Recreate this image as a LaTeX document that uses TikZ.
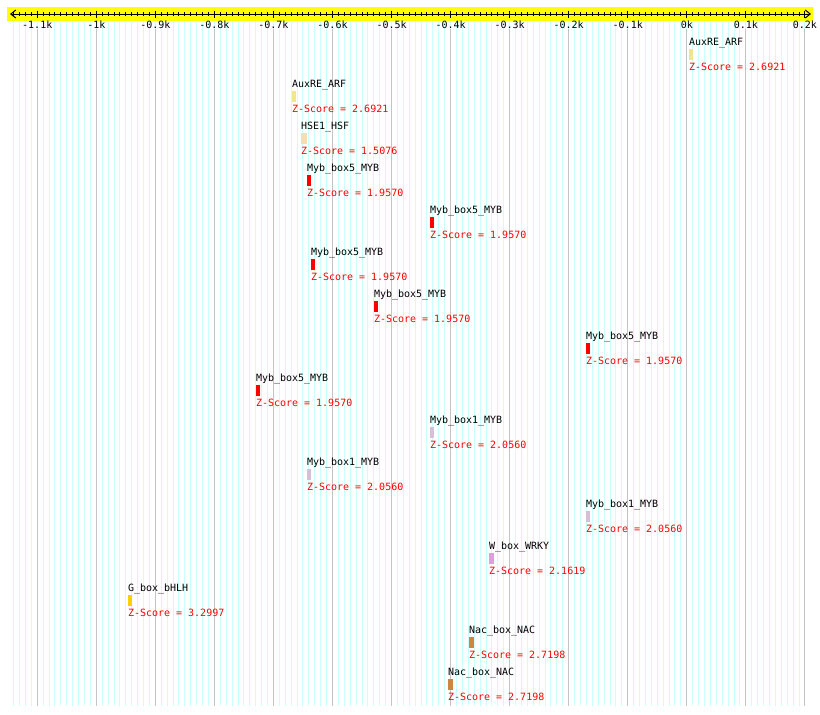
\documentclass[tikz,border=0pt]{standalone}
\usepackage{fontspec}
\setmonofont{DejaVu Sans Mono}
\usetikzlibrary{arrows.meta}
\definecolor{khakiC}{HTML}{F0E68C}
\definecolor{wheatC}{HTML}{F5DEB3}
\definecolor{mybC}{HTML}{FF0000}
\definecolor{thistleC}{HTML}{D8BFD8}
\definecolor{plumC}{HTML}{DDA0DD}
\definecolor{goldC}{HTML}{FFD000}
\definecolor{peruC}{HTML}{CD853F}
\definecolor{minorC}{HTML}{CCFFFF}
\definecolor{majorC}{HTML}{C4C4C4}
\definecolor{bandC}{HTML}{FFFF00}
\newcommand{\lblfont}{\ttfamily\fontsize{10}{12}\selectfont}
\begin{document}
\begin{tikzpicture}[x=1pt,y=-1pt,
  lbl/.style={anchor=base west, inner sep=0pt, outer sep=0pt, font=\lblfont, text=black},
  zsc/.style={lbl, text=red},
  axlbl/.style={anchor=base, inner sep=0pt, font=\lblfont, text=black},
  barbox/.style={draw=none, inner sep=0pt, outer sep=0pt, anchor=north west, minimum height=10.5pt},
  minorline/.style={draw=minorC, line width=1pt},
  majorline/.style={draw=majorC, line width=1pt},
  tickline/.style={draw=black, line width=1pt},
  axisline/.style={draw=black, line width=1pt, {Straight Barb[length=5pt,width=8pt]}-{Straight Barb[length=5pt,width=8pt]}}
]
\useasboundingbox (0,0) rectangle (820,715);
\fill[white] (0,0) rectangle (820,715);
% grid
\foreach \b in {-1140,-1130,...,200}{
  \pgfmathsetmacro\xx{686.8+0.5905*\b}
  \draw[minorline] (\xx,21) -- (\xx,706);
}
\foreach \b in {-1100,-1000,...,200}{
  \pgfmathsetmacro\xx{686.8+0.5905*\b}
  \draw[majorline] (\xx,29) -- (\xx,706);
}
% axis band
\fill[bandC] (7,7) rectangle (813,21);
\coordinate (axL) at (10,14);
\coordinate (axR) at (811,14);
\draw[axisline] (axL) -- (axR);
\foreach \b in {-1140,-1130,...,200}{
  \pgfmathsetmacro\xx{686.8+0.5905*\b}
  \draw[tickline] (\xx,12) -- (\xx,16);
}
\foreach \b/\t [count=\i] in {-1100/-1.1k,-1000/-1k,-900/-0.9k,-800/-0.8k,-700/-0.7k,-600/-0.6k,-500/-0.5k,-400/-0.4k,-300/-0.3k,-200/-0.2k,-100/-0.1k,0/0k,100/0.1k,200/0.2k}{
  \pgfmathsetmacro\xx{686.8+0.5905*\b}
  \draw[tickline] (\xx,10.5) -- (\xx,17.5);
  \node[axlbl] (ax\i) at (\xx,28.3) {\t};
}
% features
\foreach \k/\x/\w/\c/\n/\z in {
  0/689/4/khakiC/AuxRE\_ARF/2.6921,
  1/292/4/khakiC/AuxRE\_ARF/2.6921,
  2/301/6/wheatC/HSE1\_HSF/1.5076,
  3/307/4.3/mybC/Myb\_box5\_MYB/1.9570,
  4/430/4.3/mybC/Myb\_box5\_MYB/1.9570,
  5/311/4.3/mybC/Myb\_box5\_MYB/1.9570,
  6/374/4.3/mybC/Myb\_box5\_MYB/1.9570,
  7/586/4.3/mybC/Myb\_box5\_MYB/1.9570,
  8/256/4.3/mybC/Myb\_box5\_MYB/1.9570,
  9/430/4/thistleC/Myb\_box1\_MYB/2.0560,
  10/307/4/thistleC/Myb\_box1\_MYB/2.0560,
  11/586/4/thistleC/Myb\_box1\_MYB/2.0560,
  12/489/5/plumC/W\_box\_WRKY/2.1619,
  13/128/4/goldC/G\_box\_bHLH/3.2997,
  14/469/5/peruC/Nac\_box\_NAC/2.7198,
  15/448/5/peruC/Nac\_box\_NAC/2.7198}{
  \pgfmathsetmacro\yy{42*\k}
  \node[lbl] (n\k) at (\x,45.5+\yy) {\n};
  \node[barbox, fill=\c, minimum width=\w pt] (b\k) at (\x,49+\yy) {};
  \node[zsc] (s\k) at (\x,70+\yy) {Z-Score = \z};
}
\end{tikzpicture}
\end{document}
